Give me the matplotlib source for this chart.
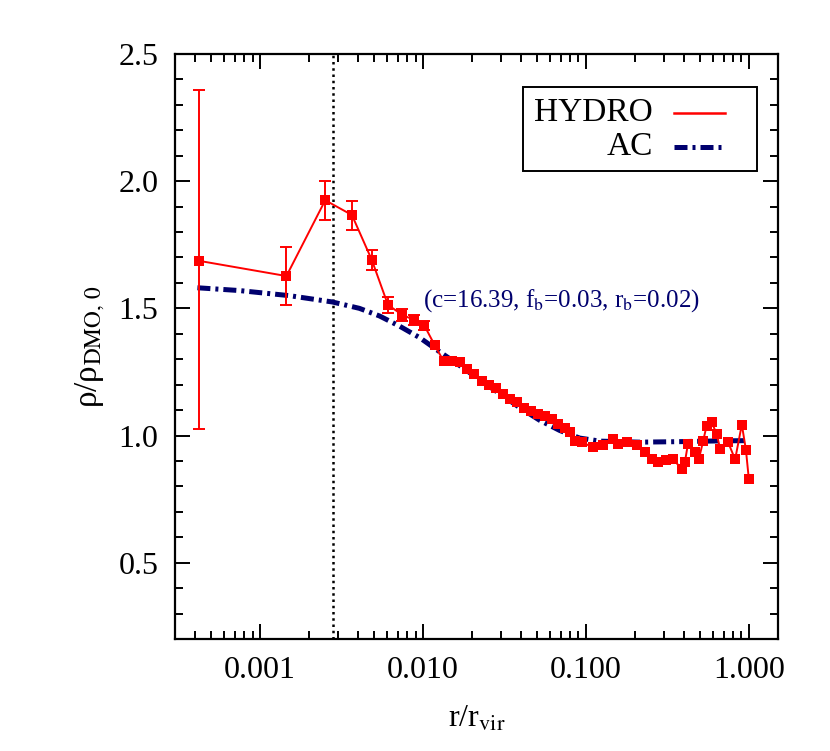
import matplotlib
matplotlib.use("Agg")
import matplotlib.pyplot as plt
from matplotlib.ticker import FixedLocator, FixedFormatter, LogLocator, NullFormatter, MultipleLocator
from matplotlib.patches import Rectangle

plt.rcParams['font.family'] = ['Liberation Serif', 'DejaVu Serif']
plt.rcParams['mathtext.fontset'] = 'stix'

# ---- data ----
hydro_r = [4.2e-4, 1.45e-3, 2.51e-3, 3.66e-3, 4.85e-3, 6.09e-3, 7.46e-3, 8.80e-3,
           1.02e-2, 1.18e-2, 1.34e-2, 1.50e-2, 1.68e-2, 1.85e-2, 2.05e-2, 2.29e-2,
           2.53e-2, 2.79e-2, 3.08e-2, 3.40e-2, 3.76e-2, 4.15e-2, 4.58e-2, 5.06e-2,
           5.58e-2, 6.16e-2, 6.71e-2, 7.41e-2, 7.96e-2, 8.55e-2, 9.44e-2, 0.110,
           0.127, 0.146, 0.157, 0.178, 0.205, 0.230, 0.254, 0.277, 0.312, 0.341,
           0.388, 0.405, 0.423, 0.467, 0.494, 0.525, 0.551, 0.592, 0.634, 0.667,
           0.746, 0.824, 0.906, 0.96, 1.0]
hydro_v = [1.687, 1.627, 1.925, 1.867, 1.690, 1.514, 1.474, 1.455,
           1.432, 1.355, 1.292, 1.295, 1.290, 1.262, 1.240, 1.216,
           1.200, 1.185, 1.165, 1.145, 1.130, 1.110, 1.095, 1.085,
           1.075, 1.066, 1.046, 1.030, 1.015, 0.980, 0.974, 0.954,
           0.961, 0.987, 0.967, 0.974, 0.961, 0.934, 0.908, 0.895, 0.902, 0.908,
           0.869, 0.895, 0.967, 0.934, 0.908, 0.980, 1.039, 1.052, 1.007, 0.948,
           0.974, 0.906, 1.043, 0.944, 0.830]
# error bars (first points only; later ones are hidden under the markers)
err_lo = [0.663, 0.115, 0.078, 0.057, 0.040, 0.034, 0.022, 0.020, 0.018]
err_hi = [0.671, 0.115, 0.076, 0.056, 0.039, 0.029, 0.022, 0.020, 0.018]

ac_r = [4.12e-4, 7.46e-4, 1.51e-3, 2.78e-3, 4.07e-3, 5.41e-3, 7.18e-3, 9.53e-3,
        1.26e-2, 1.68e-2, 2.22e-2, 2.95e-2, 3.92e-2, 5.20e-2, 6.90e-2, 9.16e-2,
        0.122, 0.214, 0.377, 0.665, 1.0]
ac_v = [1.581, 1.570, 1.550, 1.525, 1.500, 1.470, 1.430, 1.385,
        1.330, 1.275, 1.220, 1.165, 1.110, 1.060, 1.020, 0.990,
        0.978, 0.974, 0.976, 0.979, 0.980]

r_res = 2.8e-3  # vertical dotted line (resolution limit)

xticks = [0.001, 0.01, 0.1, 1.0]
xticklabels = ['0.001', '0.010', '0.100', '1.000']
yticks = [0.5, 1.0, 1.5, 2.0, 2.5]
yticklabels = ['0.5', '1.0', '1.5', '2.0', '2.5']
ann_text = r'(c=16.39, f$_{\rm b}$=0.03, r$_{\rm b}$=0.02)'

red = '#ff0000'
navy = '#00006e'

fig = plt.figure(figsize=(8.30, 7.51), dpi=100)
ax = fig.add_axes([0.2108, 0.1491, 0.7265, 0.7790])

ax.axvline(r_res, color='black', linestyle=(0, (1, 1.5)), linewidth=1.8, zorder=1)

ax.plot(ac_r, ac_v, color=navy, linewidth=3.6, dashes=(2.6, 1.0, 0.6, 1.0), zorder=2)

ax.plot(hydro_r, hydro_v, color=red, linewidth=1.4, marker='s', markersize=7.5,
        markeredgewidth=0, zorder=3)
n = len(err_lo)
ax.errorbar(hydro_r[:n], hydro_v[:n], yerr=[err_lo, err_hi], fmt='none', ecolor=red,
            elinewidth=1.4, capsize=4, capthick=1.4, zorder=3)

ax.set_xscale('log')
ax.set_xlim(3.0e-4, 1.51)
ax.set_ylim(0.2, 2.5)

ax.xaxis.set_major_locator(FixedLocator(xticks))
ax.xaxis.set_major_formatter(FixedFormatter(xticklabels))
ax.xaxis.set_minor_locator(LogLocator(base=10, subs=range(2, 10)))
ax.xaxis.set_minor_formatter(NullFormatter())
ax.yaxis.set_major_locator(FixedLocator(yticks))
ax.yaxis.set_major_formatter(FixedFormatter(yticklabels))
ax.yaxis.set_minor_locator(MultipleLocator(0.1))

ax.tick_params(which='both', direction='in', top=True, right=True, width=1.4,
               labelsize=23, pad=12)
ax.tick_params(which='major', length=11)
ax.tick_params(which='minor', length=6)
for s in ax.spines.values():
    s.set_linewidth(1.6)

ax.set_xlabel(r'r/r$_{\rm vir}$', fontsize=23, labelpad=14)
ax.set_ylabel('ρ/ρ$_{\\rm DMO,\\,0}$', fontsize=24, labelpad=8)

ax.text(0.00994, 1.53, ann_text, color=navy, fontsize=18, ha='left', va='center')

# legend drawn manually (right-aligned labels, sample lines on right)
ax.add_patch(Rectangle((0.577, 0.800), 0.388, 0.1436, transform=ax.transAxes,
                       facecolor='white', edgecolor='black', linewidth=1.4, zorder=5))
ax.text(0.7927, 0.899, 'HYDRO', transform=ax.transAxes, fontsize=24, ha='right',
        va='center', zorder=6)
ax.text(0.7927, 0.841, 'AC', transform=ax.transAxes, fontsize=24, ha='right',
        va='center', zorder=6)
ax.plot([0.8275, 0.912], [0.899, 0.899], transform=ax.transAxes, color=red,
        linewidth=1.8, zorder=6)
ax.plot([0.8275, 0.912], [0.841, 0.841], transform=ax.transAxes, color=navy,
        linewidth=3.6, dashes=(2.6, 1.0, 0.6, 1.0), zorder=6)

fig.savefig('out.png', dpi=100)
